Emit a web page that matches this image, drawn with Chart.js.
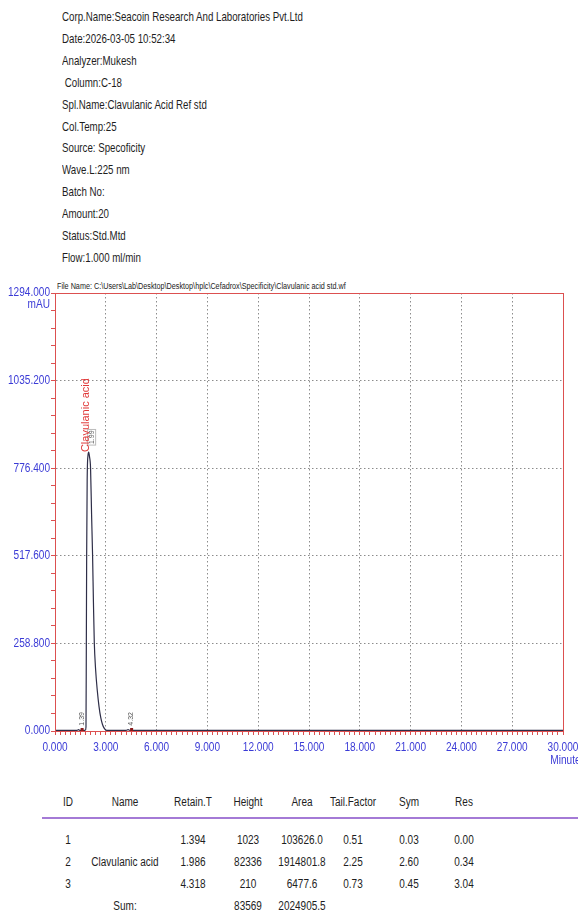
<!DOCTYPE html>
<html>
<head>
<meta charset="utf-8">
<script src="https://cdn.jsdelivr.net/npm/chart.js@4"></script>
<style>
	body{margin:0;width:578px;height:924px;overflow:hidden;background:#fff;position:relative;
		font-family:"Liberation Sans",Arial,sans-serif;color:#1e1e1e;}
	.info{position:absolute;left:62px;font-size:13.5px;line-height:22px;white-space:pre;transform:scaleX(0.72);transform-origin:0 50%;}
	#fname{position:absolute;left:57px;top:281px;font-size:8.5px;line-height:10px;white-space:nowrap;color:#222;transform:scaleX(0.85);transform-origin:0 50%;}
	#wrap{position:absolute;left:0;top:270px;width:600px;height:510px;}
	.cell{position:absolute;font-size:12.5px;white-space:nowrap;transform:translate(-50%,-50%) scaleX(0.8);}
	#rule{position:absolute;left:42px;top:817px;width:536px;height:2px;background:#a47ad6;}
</style>
</head>
<body>
<div id="fname">File Name: C:\Users\Lab\Desktop\Desktop\hplc\Cefadrox\Specificity\Clavulanic acid std.wf</div>
<div id="wrap"><canvas id="chart" width="600" height="510"></canvas></div>
<div id="rule"></div>
<script>
// report header
const infoLines = [
	"Corp.Name:Seacoin Research And Laboratories Pvt.Ltd",
	"Date:2026-03-05 10:52:34",
	"Analyzer:Mukesh",
	" Column:C-18",
	"Spl.Name:Clavulanic Acid Ref std",
	"Col.Temp:25",
	"Source: Specoficity",
	"Wave.L:225 nm",
	"Batch No:",
	"Amount:20",
	"Status:Std.Mtd",
	"Flow:1.000 ml/min",
];

// chromatogram trace (minutes, mAU)
const times  = [0, 0.5, 1.0, 1.30, 1.394, 1.46, 1.75, 1.80, 1.83, 1.85, 1.87, 1.90, 1.95, 1.99, 2.04, 2.10, 2.16, 2.22, 2.27, 2.32, 2.40, 2.50, 2.60, 2.70, 2.80, 2.92, 3.05, 4.20, 4.318, 4.42, 6, 10, 15, 20, 25, 30];
const signal = [2, 2, 2, 2, 4, 2, 2, 3, 12, 250, 520, 740, 815, 824, 810, 776, 640, 517, 380, 262, 180, 118, 72, 40, 20, 7, 2, 2, 4, 2, 2, 2, 2, 2, 2, 2];

// peak annotations
const peakTimes  = [1.394, 1.986, 4.318];
const peakTops   = [4, 824, 4];
const peakLabels = ["1.39", "1.99", "4.32"];
const peakNames  = ["", "Clavulanic acid", ""];

// axes
const xMin = 0, xMax = 30, xStep = 0.3;
const yMin = 0, yMax = 1294, yStep = 51.76;

// result table
const tableHeaders = ["ID", "Name", "Retain.T", "Height", "Area", "Tail.Factor", "Sym", "Res"];
const ids          = ["1", "2", "3"];
const names        = ["", "Clavulanic acid", ""];
const retainTimes  = ["1.394", "1.986", "4.318"];
const heights      = ["1023", "82336", "210"];
const areas        = ["103626.0", "1914801.8", "6477.6"];
const tailFactors  = ["0.51", "2.25", "0.73"];
const syms         = ["0.03", "2.60", "0.45"];
const resValues    = ["0.00", "0.34", "3.04"];
const sumRow       = ["", "Sum:", "", "83569", "2024905.5", "", "", ""];

infoLines.forEach((t, i) => {
	const d = document.createElement("div");
	d.className = "info";
	d.style.top = (6 + i * 21.9) + "px";
	d.textContent = t;
	document.body.appendChild(d);
});

const colX = [68, 125, 193, 248, 302, 353, 409, 464];
function addRow(cells, y){
	cells.forEach((t, i) => {
		if (!t) return;
		const d = document.createElement("div");
		d.className = "cell";
		d.style.left = colX[i] + "px";
		d.style.top = y + "px";
		d.textContent = t;
		document.body.appendChild(d);
	});
}
addRow(tableHeaders, 802);
ids.forEach((id, i) => {
	addRow([id, names[i], retainTimes[i], heights[i], areas[i], tailFactors[i], syms[i], resValues[i]], 840 + i * 22);
});
addRow(sumRow, 906);

const RED = "#dc5050";
const BLUE = "#3b3bd6";
const FONT = "'Liberation Sans',Arial,sans-serif";
Chart.defaults.font.family = FONT;

// narrow (Arial Narrow-like) text
function narrowText(ctx, text, x, y, align, sx){
	ctx.save();
	ctx.translate(x, y);
	ctx.scale(sx, 1);
	ctx.textAlign = align;
	ctx.fillText(text, 0, 0);
	ctx.restore();
}

const annotations = {
	id: "annotations",
	afterDatasetsDraw(chart){
		const {ctx, chartArea: a, scales: {x, y}} = chart;
		ctx.save();
		ctx.strokeStyle = RED;
		ctx.lineWidth = 1;
		ctx.strokeRect(a.left + 0.5, a.top + 0.5, a.right - a.left, a.bottom - a.top);

		// tick labels, taken from the scales' own ticks
		ctx.fillStyle = BLUE;
		ctx.font = "12px " + FONT;
		ctx.textBaseline = "middle";
		x.ticks.forEach((tk, i) => {
			if (i % 10) return;
			narrowText(ctx, tk.value.toFixed(3), x.getPixelForValue(tk.value), a.bottom + 17, "center", 0.84);
		});
		y.ticks.forEach((tk, i) => {
			if (i % 5) return;
			narrowText(ctx, tk.value.toFixed(3), a.left - 5, y.getPixelForValue(tk.value), "right", 0.84);
		});
		narrowText(ctx, "mAU", a.left - 5, a.top + 12, "right", 0.84);
		narrowText(ctx, "Minutes", a.right + 5, a.bottom + 30, "center", 0.84);

		peakTimes.forEach((t, i) => {
			const px = x.getPixelForValue(t);
			const py = y.getPixelForValue(peakTops[i]);
			ctx.save();
			ctx.translate(px + 3, py - (i === 1 ? 8 : 4));
			ctx.rotate(-Math.PI / 2);
			ctx.font = "7px " + FONT;
			ctx.fillStyle = "#555";
			ctx.textAlign = "left";
			ctx.textBaseline = "middle";
			ctx.fillText(peakLabels[i], 0, 0);
			if (i === 1){
				const w = ctx.measureText(peakLabels[i]).width;
				ctx.strokeStyle = "#bbb";
				ctx.strokeRect(-1, -4, w + 2, 8);
			}
			ctx.restore();
			if (peakNames[i]){
				ctx.save();
				ctx.translate(px - 3, py);
				ctx.rotate(-Math.PI / 2);
				ctx.font = "11px " + FONT;
				ctx.fillStyle = "#e03838";
				ctx.textAlign = "left";
				ctx.textBaseline = "middle";
				ctx.fillText(peakNames[i], 0, 0);
				ctx.restore();
			} else {
				ctx.fillStyle = "#8b1a1a";
				ctx.fillRect(px + 2, y.getPixelForValue(0) - 3, 3, 3);
			}
		});
		ctx.restore();
	}
};

new Chart(document.getElementById("chart"), {
	type: "line",
	data: {
		datasets: [{
			data: times.map((t, i) => ({x: t, y: signal[i]})),
			borderColor: "#2e2e48",
			borderWidth: 1.2,
			pointRadius: 0,
			cubicInterpolationMode: "monotone",
			fill: false,
		}],
	},
	options: {
		responsive: false,
		animation: false,
		layout: {padding: {left: 0, right: 37, top: 23, bottom: 0}},
		plugins: {legend: {display: false}, tooltip: {enabled: false}},
		scales: {
			x: {
				type: "linear",
				min: xMin, max: xMax,
				afterFit: s => { s.height = 49; },
				ticks: {stepSize: xStep, autoSkip: false, maxRotation: 0, display: false},
				grid: {
					color: c => c.index % 10 === 0 ? "#8c8c8c" : "rgba(0,0,0,0)",
					tickColor: RED, tickLength: 4, tickWidth: 1,
				},
				border: {color: RED, dash: [1.5, 2.5]},
			},
			y: {
				min: yMin, max: yMax,
				afterFit: s => { s.width = 55; },
				ticks: {stepSize: yStep, autoSkip: false, display: false},
				grid: {
					color: c => c.index % 5 === 0 ? "#8c8c8c" : "rgba(0,0,0,0)",
					tickColor: RED, tickLength: 4, tickWidth: 1,
				},
				border: {color: RED, dash: [1.5, 2.5]},
			},
		},
	},
	plugins: [annotations],
});
</script>
</body>
</html>
